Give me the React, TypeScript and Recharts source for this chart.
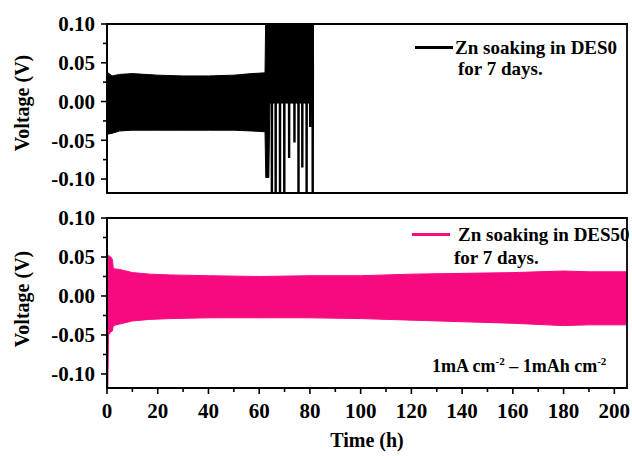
import { Area, ComposedChart, Line, ReferenceArea, XAxis, YAxis } from "recharts";

const FONT = "'Liberation Serif', 'Times New Roman', serif";
const PINK = "#F70A80";

// axis ticks
const xMajorTicks = [0, 20, 40, 60, 80, 100, 120, 140, 160, 180, 200];
const xAllTicks = [0, 10, 20, 30, 40, 50, 60, 70, 80, 90, 100, 110, 120, 130, 140, 150, 160, 170, 180, 190, 200];
const yMajorTicks = [-0.1, -0.05, 0, 0.05, 0.1];
const yAllTicks = [-0.1, -0.075, -0.05, -0.025, 0, 0.025, 0.05, 0.075, 0.1];

// DES0 cell: envelope of the voltage trace (h, V)
const des0Time = [0, 0.4, 2, 5, 10, 20, 30, 40, 50, 57, 62.3, 62.6, 63.8, 64.2, 72, 80.4, 80.6, 81.6];
const des0Low = [-0.04, -0.042, -0.041, -0.038, -0.037, -0.037, -0.037, -0.037, -0.037, -0.038, -0.039, -0.098, -0.098, -0.002, -0.002, -0.002, 0.017, 0.017];
const des0High = [0.038, 0.037, 0.033, 0.035, 0.036, 0.034, 0.033, 0.033, 0.034, 0.036, 0.037, 0.12, 0.12, 0.12, 0.12, 0.12, 0.12, 0.12];

// DES0 short-circuit spikes (h, lowest V)
const des0SpikeTime = [65.0, 66.5, 68.2, 69.9, 71.8, 73.9, 75.5, 77.0, 78.7, 80.1, 81.1];
const des0SpikeLow = [-0.13, -0.13, -0.13, -0.13, -0.073, -0.053, -0.13, -0.085, -0.13, -0.033, -0.13];

// DES50 cell: envelope of the voltage trace (h, V)
const des50Time = [0, 0.3, 0.6, 1.5, 2.1, 2.5, 5, 10, 17, 25, 40, 60, 80, 100, 120, 140, 160, 180, 190, 205];
const des50Low = [-0.125, -0.125, -0.05, -0.046, -0.045, -0.038, -0.036, -0.032, -0.03, -0.029, -0.028, -0.028, -0.028, -0.029, -0.031, -0.033, -0.035, -0.038, -0.037, -0.037];
const des50High = [0.0, 0.01, 0.052, 0.05, 0.047, 0.035, 0.034, 0.03, 0.028, 0.027, 0.026, 0.025, 0.026, 0.026, 0.028, 0.029, 0.03, 0.032, 0.031, 0.031];

const des0Band = des0Time.map((t, i) => ({ t, range: [des0Low[i], des0High[i]] }));
const des0Spikes = des0SpikeTime.flatMap((t, i) => [
  { t: t - 0.05, v: 0.05 },
  { t, v: des0SpikeLow[i] },
  { t: t + 0.05, v: 0.05 },
]);
const des50Band = des50Time.map((t, i) => ({ t, range: [des50Low[i], des50High[i]] }));

const X_DOMAIN = [0, 205];
const Y_DOMAIN = [-0.118, 0.1];
const TICK = 6;
const GAP = 6;
const AXIS = { stroke: "#000", strokeWidth: 1.8 };

function YTick(props: any) {
  const { x, y, payload } = props;
  const ax = x + TICK + GAP;
  const major = yMajorTicks.includes(payload.value);
  return (
    <g>
      <line x1={ax} x2={ax - (major ? 6 : 4)} y1={y} y2={y} stroke="#000" strokeWidth={1.6} />
      {major && (
        <text x={x} y={y} dy="0.35em" textAnchor="end" fontFamily={FONT} fontWeight="bold" fontSize={21} fill="#000">
          {payload.value.toFixed(2)}
        </text>
      )}
    </g>
  );
}

function XTick(props: any) {
  const { x, y, payload } = props;
  const ay = y - TICK - GAP;
  const major = xMajorTicks.includes(payload.value);
  return (
    <g>
      <line x1={x} x2={x} y1={ay} y2={ay + (major ? 6 : 4)} stroke="#000" strokeWidth={1.6} />
      {major && (
        <text x={x} y={ay + 30} textAnchor="middle" fontFamily={FONT} fontWeight="bold" fontSize={21} fill="#000">
          {payload.value}
        </text>
      )}
    </g>
  );
}

const textStyle: React.CSSProperties = {
  position: "absolute",
  fontFamily: FONT,
  fontWeight: "bold",
  color: "#000",
  whiteSpace: "nowrap",
};

const supStyle: React.CSSProperties = { fontSize: 11, position: "relative", top: -7 };

export default function App() {
  return (
    <div style={{ position: "absolute", left: 0, top: 0, width: 632, height: 456, background: "#fff", overflow: "hidden" }}>
      <div style={{ position: "absolute", left: 0, top: 0 }}>
        <ComposedChart width={632} height={200} margin={{ top: 24, right: 5, bottom: 7, left: 0 }}>
          <XAxis dataKey="t" type="number" domain={X_DOMAIN} allowDataOverflow height={0} tick={false} tickLine={false} axisLine={AXIS} />
          <YAxis type="number" domain={Y_DOMAIN} allowDataOverflow width={107} ticks={yAllTicks} interval={0} tickSize={TICK} tickMargin={GAP} tickLine={false} tick={<YTick />} axisLine={AXIS} />
          <Area data={des0Band} dataKey="range" type="linear" stroke="#000" strokeWidth={1} fill="#000" fillOpacity={1} dot={false} activeDot={false} isAnimationActive={false} />
          <Line data={des0Spikes} dataKey="v" type="linear" stroke="#000" strokeWidth={2.4} dot={false} activeDot={false} isAnimationActive={false} />
          <ReferenceArea x1={X_DOMAIN[0]} x2={X_DOMAIN[1]} y1={Y_DOMAIN[0]} y2={Y_DOMAIN[1]} fill="none" stroke="#000" strokeWidth={1.8} ifOverflow="visible" />
        </ComposedChart>
      </div>
      <div style={{ position: "absolute", left: 0, top: 200 }}>
        <ComposedChart width={632} height={256} margin={{ top: 18, right: 5, bottom: 0, left: 0 }}>
          <XAxis dataKey="t" type="number" domain={X_DOMAIN} allowDataOverflow height={68} ticks={xAllTicks} interval={0} tickSize={TICK} tickMargin={GAP} tickLine={false} tick={<XTick />} axisLine={AXIS} />
          <YAxis type="number" domain={Y_DOMAIN} allowDataOverflow width={107} ticks={yAllTicks} interval={0} tickSize={TICK} tickMargin={GAP} tickLine={false} tick={<YTick />} axisLine={AXIS} />
          <Area data={des50Band} dataKey="range" type="linear" stroke={PINK} strokeWidth={1} fill={PINK} fillOpacity={1} dot={false} activeDot={false} isAnimationActive={false} />
          <ReferenceArea x1={X_DOMAIN[0]} x2={X_DOMAIN[1]} y1={Y_DOMAIN[0]} y2={Y_DOMAIN[1]} fill="none" stroke="#000" strokeWidth={1.8} ifOverflow="visible" />
        </ComposedChart>
      </div>

      {/* axis titles */}
      <div style={{ ...textStyle, left: 22 - 100, top: 103 - 12, width: 200, height: 24, lineHeight: "24px", fontSize: 20, textAlign: "center", transform: "rotate(-90deg)" }}>
        Voltage (V)
      </div>
      <div style={{ ...textStyle, left: 22 - 100, top: 299 - 12, width: 200, height: 24, lineHeight: "24px", fontSize: 20, textAlign: "center", transform: "rotate(-90deg)" }}>
        Voltage (V)
      </div>
      <div style={{ ...textStyle, left: 267, top: 428, width: 200, lineHeight: "24px", fontSize: 20, textAlign: "center" }}>Time (h)</div>

      {/* legends */}
      <div style={{ position: "absolute", left: 415, top: 46, width: 38, height: 3, background: "#000" }} />
      <div style={{ ...textStyle, left: 455, top: 37, lineHeight: "22px", fontSize: 19 }}>Zn soaking in DES0</div>
      <div style={{ ...textStyle, left: 458, top: 58, lineHeight: "22px", fontSize: 19 }}>for 7 days.</div>

      <div style={{ position: "absolute", left: 412, top: 233, width: 38, height: 3, background: PINK }} />
      <div style={{ ...textStyle, left: 458, top: 224, lineHeight: "22px", fontSize: 19 }}>Zn soaking in DES50</div>
      <div style={{ ...textStyle, left: 454, top: 247, lineHeight: "22px", fontSize: 19 }}>for 7 days.</div>

      <div style={{ ...textStyle, left: 432, top: 355, lineHeight: "22px", fontSize: 18 }}>
        1mA cm<span style={supStyle}>-2</span> – 1mAh cm<span style={supStyle}>-2</span>
      </div>
    </div>
  );
}
